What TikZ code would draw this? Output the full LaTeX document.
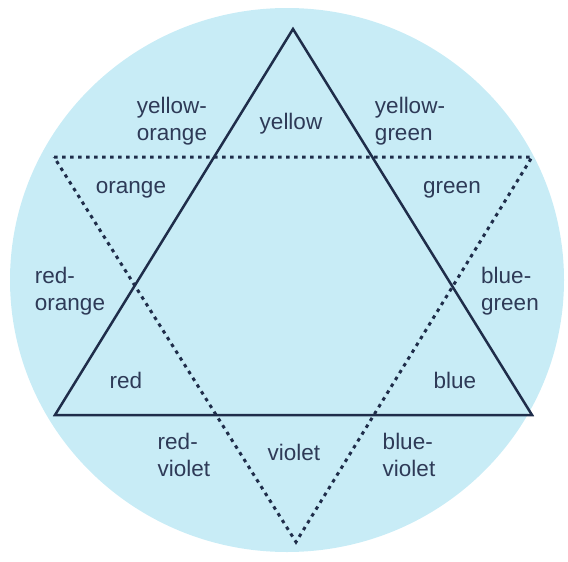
\documentclass[tikz,border=0pt]{standalone}
\usepackage{fontspec}
\setmainfont{Liberation Sans}
\usepackage{tikz}
\usetikzlibrary{positioning}
\definecolor{disc}{HTML}{C8ECF6}
\definecolor{ink}{HTML}{1F2D4A}
\definecolor{lbl}{HTML}{2E3A57}
\tikzstyle{huename} = [text=lbl, align=left, inner sep=0pt,
                       font=\fontsize{22.5}{27}\selectfont]
\tikzstyle{maintri} = [draw=ink, line width=2.5pt, line join=miter]
\tikzstyle{dottri}  = [draw=ink, line width=3pt, dash pattern=on 3.5pt off 4.5pt]

\begin{document}
\begin{tikzpicture}[x=1pt, y=-1pt]
  \useasboundingbox (0,0) rectangle (568,562);

  % Colour disc
  \fill[disc] (287,280) ellipse [x radius=277, y radius=272];

  % Corners of the two triangles
  \coordinate (yel)  at (293, 29);
  \coordinate (redc) at (55, 415);
  \coordinate (bluc) at (532, 415);
  \coordinate (orc)  at (54, 157);
  \coordinate (grc)  at (532, 157);
  \coordinate (vic)  at (296, 542);

  % Primary triangle
  \draw[maintri] (yel) -- (redc) -- (bluc) -- cycle;
  % Secondary triangle
  \draw[dottri] (orc) -- (grc) -- (vic) -- cycle;

  % Hues
  \node (yo) [huename] at (172, 121) {yellow-\\orange};
  \node (y)  [huename] at (291, 124) {yellow};
  \node (yg) [huename] at (410, 121) {yellow-\\green};
  \node (o)  [huename] at (131, 190) {orange};
  \node (g)  [huename] at (452, 190) {green};
  \node (ro) [huename] at (70, 291)  {red-\\orange};
  \node (bg) [huename] at (510, 291) {blue-\\green};
  \node (r)  [huename] at (126, 380) {red};
  \node (b)  [huename] at (455, 380) {blue};
  \node (rv) [huename] at (184, 455) {red-\\violet};
  \node (v)  [huename] at (294, 452) {violet};
  \node (bv) [huename] at (409, 455) {blue-\\violet};

\end{tikzpicture}
\end{document}
